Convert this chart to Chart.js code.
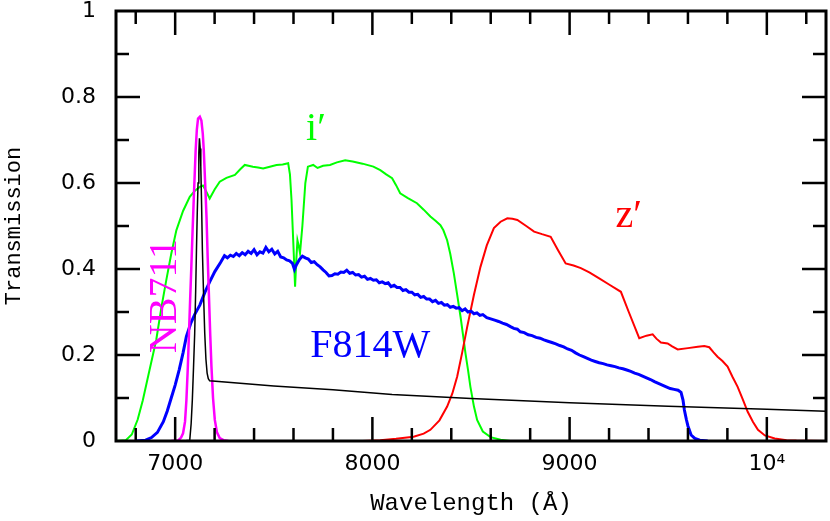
<!DOCTYPE html>
<html>
<head>
<meta charset="UTF-8">
<title>Transmission</title>
<script src="https://cdn.jsdelivr.net/npm/chart.js@4"></script>
<style>
  body { margin: 0; background: #fff; }
</style>
</head>
<body>
<canvas id="filterChart" width="830" height="521"></canvas>
<script>
// i' filter
const iWave = [6700, 6750, 6780, 6810, 6836, 6870, 6904, 6930, 6955, 6980, 7006, 7040, 7074, 7100, 7125, 7141, 7158, 7175, 7200, 7226, 7260, 7303, 7330, 7353, 7394, 7420, 7446, 7480, 7514, 7545, 7573, 7582, 7590, 7600, 7608, 7614, 7620, 7626, 7633, 7645, 7660, 7673, 7700, 7722, 7750, 7785, 7820, 7862, 7900, 7950, 8005, 8040, 8070, 8100, 8120, 8141, 8180, 8226, 8260, 8294, 8320, 8345, 8360, 8379, 8395, 8413, 8430, 8447, 8460, 8472, 8485, 8497, 8515, 8531, 8560, 8599, 8650, 8700, 8950];
const iTrans = [0, 0.002, 0.015, 0.05, 0.095, 0.165, 0.235, 0.31, 0.374, 0.435, 0.49, 0.535, 0.568, 0.582, 0.591, 0.594, 0.58, 0.564, 0.585, 0.603, 0.612, 0.619, 0.632, 0.642, 0.638, 0.636, 0.634, 0.638, 0.642, 0.643, 0.646, 0.62, 0.56, 0.45, 0.359, 0.42, 0.467, 0.455, 0.437, 0.5, 0.6, 0.638, 0.642, 0.635, 0.64, 0.642, 0.648, 0.653, 0.65, 0.645, 0.638, 0.63, 0.62, 0.611, 0.595, 0.576, 0.565, 0.553, 0.538, 0.522, 0.512, 0.502, 0.49, 0.467, 0.435, 0.39, 0.34, 0.289, 0.245, 0.204, 0.165, 0.126, 0.08, 0.049, 0.022, 0.009, 0.003, 0, 0];

// z' filter
const zWave = [7950, 8040, 8120, 8209, 8260, 8294, 8340, 8379, 8405, 8430, 8455, 8481, 8515, 8548, 8580, 8616, 8650, 8684, 8710, 8735, 8780, 8820, 8860, 8904, 8940, 8980, 9020, 9057, 9100, 9150, 9200, 9260, 9300, 9353, 9390, 9421, 9440, 9463, 9497, 9520, 9548, 9600, 9650, 9683, 9708, 9730, 9750, 9775, 9801, 9825, 9852, 9878, 9903, 9930, 9955, 9990, 10040, 10100, 10150, 10300];
const zTrans = [0, 0.002, 0.005, 0.01, 0.017, 0.026, 0.048, 0.08, 0.11, 0.15, 0.205, 0.266, 0.34, 0.405, 0.455, 0.495, 0.51, 0.518, 0.517, 0.514, 0.5, 0.487, 0.481, 0.475, 0.445, 0.413, 0.408, 0.402, 0.392, 0.378, 0.364, 0.347, 0.3, 0.239, 0.245, 0.248, 0.238, 0.229, 0.227, 0.22, 0.213, 0.216, 0.219, 0.221, 0.218, 0.206, 0.196, 0.186, 0.173, 0.15, 0.126, 0.097, 0.068, 0.044, 0.026, 0.013, 0.006, 0.002, 0.001, 0];

// F814W filter
const fWave = [6800, 6850, 6880, 6910, 6940, 6960, 6980, 7000, 7020, 7040, 7057, 7080, 7100, 7125, 7150, 7175, 7201, 7230, 7250, 7265, 7280, 7295, 7310, 7325, 7340, 7355, 7370, 7385, 7400, 7415, 7430, 7445, 7460, 7475, 7490, 7505, 7520, 7535, 7550, 7565, 7580, 7595, 7605, 7615, 7630, 7645, 7660, 7675, 7690, 7705, 7720, 7735, 7750, 7765, 7780, 7795, 7810, 7825, 7840, 7855, 7870, 7885, 7900, 7915, 7930, 7945, 7960, 7975, 7990, 8005, 8020, 8035, 8050, 8065, 8080, 8095, 8110, 8125, 8140, 8155, 8170, 8185, 8200, 8215, 8230, 8245, 8260, 8275, 8290, 8305, 8320, 8335, 8350, 8365, 8380, 8395, 8410, 8425, 8440, 8455, 8470, 8485, 8500, 8515, 8530, 8545, 8560, 8580, 8600, 8620, 8640, 8660, 8680, 8700, 8717, 8735, 8750, 8770, 8790, 8810, 8830, 8850, 8870, 8890, 8910, 8930, 8950, 8970, 8990, 9010, 9030, 9050, 9070, 9090, 9110, 9130, 9150, 9170, 9190, 9210, 9230, 9250, 9270, 9290, 9310, 9330, 9350, 9370, 9390, 9410, 9430, 9450, 9470, 9490, 9510, 9530, 9550, 9565, 9575, 9582, 9592, 9600, 9616, 9635, 9660, 9700];
const fTrans = [0, 0.002, 0.008, 0.02, 0.045, 0.07, 0.1, 0.13, 0.165, 0.205, 0.243, 0.275, 0.295, 0.316, 0.345, 0.37, 0.394, 0.415, 0.431, 0.426, 0.432, 0.429, 0.436, 0.431, 0.438, 0.433, 0.441, 0.436, 0.445, 0.433, 0.44, 0.437, 0.45, 0.44, 0.446, 0.435, 0.441, 0.428, 0.426, 0.421, 0.419, 0.413, 0.399, 0.41, 0.422, 0.43, 0.426, 0.423, 0.415, 0.417, 0.41, 0.405, 0.398, 0.392, 0.384, 0.385, 0.389, 0.388, 0.393, 0.392, 0.397, 0.39, 0.392, 0.386, 0.387, 0.381, 0.383, 0.376, 0.378, 0.374, 0.375, 0.368, 0.37, 0.366, 0.368, 0.359, 0.362, 0.357, 0.357, 0.35, 0.352, 0.346, 0.346, 0.34, 0.341, 0.334, 0.336, 0.33, 0.33, 0.324, 0.327, 0.32, 0.322, 0.316, 0.317, 0.311, 0.313, 0.309, 0.31, 0.303, 0.307, 0.3, 0.302, 0.296, 0.298, 0.292, 0.294, 0.287, 0.284, 0.281, 0.278, 0.274, 0.271, 0.266, 0.262, 0.26, 0.254, 0.252, 0.247, 0.245, 0.241, 0.239, 0.235, 0.232, 0.229, 0.226, 0.222, 0.219, 0.214, 0.211, 0.205, 0.2, 0.196, 0.192, 0.188, 0.185, 0.182, 0.18, 0.177, 0.175, 0.173, 0.17, 0.168, 0.165, 0.162, 0.158, 0.155, 0.151, 0.147, 0.143, 0.138, 0.134, 0.13, 0.126, 0.122, 0.12, 0.118, 0.113, 0.095, 0.072, 0.05, 0.035, 0.014, 0.006, 0.002, 0];

// NB711 filter
const nbWave = [6980, 7014, 7030, 7040, 7050, 7057, 7064, 7070, 7076, 7082, 7088, 7094, 7104, 7110, 7116, 7125, 7133, 7140, 7145, 7152, 7159, 7165, 7172, 7178, 7184, 7192, 7201, 7212, 7226, 7245, 7270];
const nbTrans = [0, 0.001, 0.008, 0.018, 0.045, 0.095, 0.17, 0.25, 0.33, 0.405, 0.485, 0.56, 0.677, 0.725, 0.75, 0.754, 0.745, 0.715, 0.677, 0.6, 0.52, 0.425, 0.328, 0.245, 0.173, 0.1, 0.049, 0.02, 0.007, 0.002, 0];

// thin black curve
const specWave = [7040, 7074, 7081, 7087, 7093, 7099, 7104, 7108, 7112, 7116, 7120, 7123, 7127, 7130, 7134, 7138, 7144, 7150, 7156, 7162, 7168, 7175, 7500, 7800, 8100, 8500, 9000, 9500, 10000, 10300];
const specVal = [0, 0.002, 0.04, 0.095, 0.17, 0.25, 0.35, 0.444, 0.53, 0.6, 0.67, 0.704, 0.68, 0.638, 0.55, 0.444, 0.34, 0.25, 0.19, 0.158, 0.145, 0.14, 0.128, 0.119, 0.108, 0.099, 0.089, 0.081, 0.074, 0.069];

const xTicks = [7000, 8000, 9000, 10000];
const yTicks = [0, 0.2, 0.4, 0.6, 0.8, 1];

// curve labels: text, colour, wavelength, transmission, rotated
const labelText = ["i\u2032", "z\u2032", "F814W", "NB711"];
const labelColor = ["#00ff00", "#ff0000", "#0000ff", "#ff00ff"];
const labelX = [7714, 9300, 7989, 7003];
const labelY = [0.700, 0.498, 0.195, 0.337];
const labelRot = [false, false, false, true];

function pts(xs, ys) {
  return xs.map((x, i) => ({ x: x, y: ys[i] }));
}

const frame = {
  id: 'frame',
  afterDraw(chart) {
    const ctx = chart.ctx;
    const a = chart.chartArea;
    const xs = chart.scales.x;
    const ys = chart.scales.y;
    ctx.save();
    ctx.strokeStyle = '#000';
    ctx.lineWidth = 2.5;
    ctx.lineCap = 'butt';
    ctx.beginPath();
    for (let w = 6800; w <= 10200; w += 200) {
      const px = xs.getPixelForValue(w);
      const len = w % 1000 === 0 ? 24 : 13;
      ctx.moveTo(px, a.bottom); ctx.lineTo(px, a.bottom - len);
      ctx.moveTo(px, a.top); ctx.lineTo(px, a.top + len);
    }
    for (let k = 1; k < 10; k++) {
      const py = ys.getPixelForValue(k / 10);
      const len = k % 2 === 0 ? 24 : 13;
      ctx.moveTo(a.left, py); ctx.lineTo(a.left + len, py);
      ctx.moveTo(a.right, py); ctx.lineTo(a.right - len, py);
    }
    ctx.stroke();
    ctx.lineWidth = 3;
    ctx.strokeRect(a.left, a.top, a.right - a.left, a.bottom - a.top);

    ctx.font = '40px "Liberation Serif", serif';
    ctx.textAlign = 'center';
    ctx.textBaseline = 'alphabetic';
    for (let i = 0; i < labelText.length; i++) {
      const px = xs.getPixelForValue(labelX[i]);
      const py = ys.getPixelForValue(labelY[i]);
      ctx.fillStyle = labelColor[i];
      ctx.save();
      ctx.translate(px, py);
      if (labelRot[i]) ctx.rotate(-Math.PI / 2);
      ctx.fillText(labelText[i], 0, 0);
      ctx.restore();
    }
    ctx.restore();
  }
};

function line(data, color, width, order) {
  return {
    data: data,
    borderColor: color,
    borderWidth: width,
    pointRadius: 0,
    fill: false,
    tension: 0,
    order: order
  };
}

new Chart(document.getElementById('filterChart'), {
  type: 'line',
  data: {
    datasets: [
      line(pts(specWave, specVal), '#000000', 1.5, 0),
      line(pts(nbWave, nbTrans), '#ff00ff', 2.5, 1),
      line(pts(fWave, fTrans), '#0000ff', 3, 2),
      line(pts(zWave, zTrans), '#ff0000', 2, 3),
      line(pts(iWave, iTrans), '#00ff00', 2, 4)
    ]
  },
  options: {
    responsive: false,
    animation: false,
    layout: { padding: { top: 11, right: 4, left: 0, bottom: 0 } },
    plugins: { legend: { display: false }, tooltip: { enabled: false } },
    scales: {
      x: {
        type: 'linear',
        min: 6700,
        max: 10300,
        grid: { display: false, drawTicks: false },
        border: { display: false },
        afterFit(scale) { scale.height = 80; scale.paddingLeft = 0; scale.paddingRight = 0; },
        afterBuildTicks(scale) { scale.ticks = xTicks.map(v => ({ value: v })); },
        ticks: {
          padding: 10,
          color: '#000',
          maxRotation: 0,
          font: { family: '"DejaVu Sans", sans-serif', size: 22 },
          callback: v => (v === 10000 ? '10\u2074' : String(v))
        },
        title: {
          display: true,
          text: 'Wavelength (\u00c5)',
          color: '#000',
          padding: { top: 0, bottom: 3 },
          font: { family: '"Liberation Mono", monospace', size: 24 }
        }
      },
      y: {
        min: 0,
        max: 1,
        grid: { display: false, drawTicks: false },
        border: { display: false },
        afterFit(scale) { scale.width = 116; scale.paddingTop = 0; scale.paddingBottom = 0; },
        afterBuildTicks(scale) { scale.ticks = yTicks.map(v => ({ value: v })); },
        ticks: {
          padding: 20,
          color: '#000',
          font: { family: '"DejaVu Sans", sans-serif', size: 22 },
          callback: v => String(+v.toFixed(1))
        },
        title: {
          display: true,
          text: 'Transmission',
          color: '#000',
          padding: { top: 1, bottom: 0 },
          font: { family: '"Liberation Mono", monospace', size: 22 }
        }
      }
    }
  },
  plugins: [frame]
});
</script>
</body>
</html>
